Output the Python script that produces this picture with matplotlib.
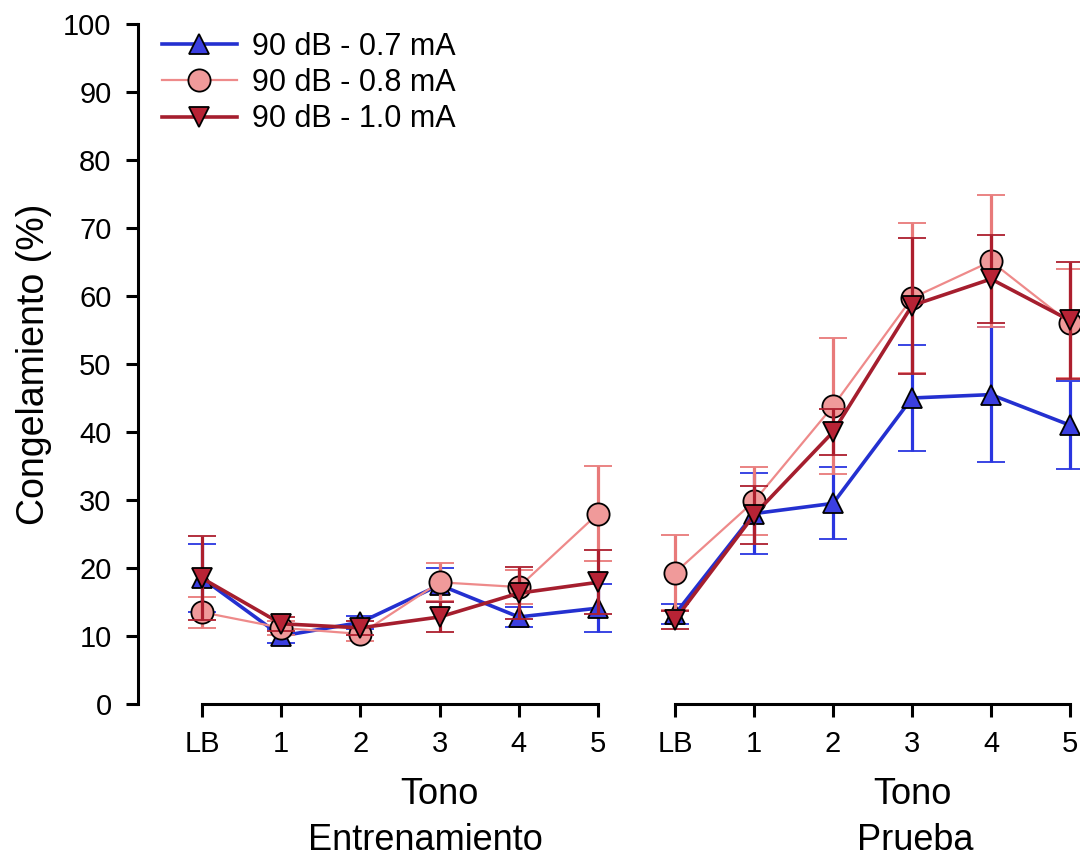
import matplotlib
matplotlib.use("Agg")
import matplotlib.pyplot as plt
import matplotlib.transforms as mtransforms

plt.rcParams['font.family'] = ['Liberation Sans', 'DejaVu Sans']

tick_labels = ["LB", "1", "2", "3", "4", "5"]
x_pos = [0, 1, 2, 3, 4, 5]

# Entrenamiento
train_07 = [18.5, 10.0, 12.0, 17.5, 12.8, 14.1]
train_07_err = [5.0, 1.0, 1.0, 2.5, 1.5, 3.5]
train_08 = [13.5, 11.2, 10.3, 17.9, 17.2, 28.0]
train_08_err = [2.3, 1.0, 1.0, 2.8, 2.5, 7.0]
train_10 = [18.5, 11.8, 11.2, 12.8, 16.3, 17.9]
train_10_err = [6.2, 1.0, 1.0, 2.2, 3.8, 4.7]

# Prueba
test_07 = [13.2, 28.0, 29.5, 45.0, 45.5, 41.0]
test_07_err = [1.5, 6.0, 5.3, 7.8, 9.9, 6.5]
test_08 = [19.3, 29.8, 43.8, 59.7, 65.1, 56.0]
test_08_err = [5.5, 5.0, 10.0, 11.0, 9.7, 8.0]
test_10 = [12.4, 27.8, 40.0, 58.6, 62.5, 56.4]
test_10_err = [1.3, 4.3, 3.4, 10.0, 6.5, 8.6]

labels = ["90 dB - 0.7 mA", "90 dB - 0.8 mA", "90 dB - 1.0 mA"]

styles = [
    dict(marker="^", color="#2430d0", mfc="#3b3fe0", lw=2.6, ms=14, ecolor="#2a36e0", z=3),
    dict(marker="o", color="#ee8a8a", mfc="#f09a9a", lw=1.6, ms=16, ecolor="#e87a7a", z=4),
    dict(marker="v", color="#a51e2e", mfc="#b82335", lw=2.6, ms=14, ecolor="#ad1f2e", z=5),
]

W, H = 1080, 858
fig = plt.figure(figsize=(W / 100, H / 100), dpi=100)

px_per_unit = (598 - 202) / 5.0
bottom = (H - 704) / H
height = 680 / H
ax1 = fig.add_axes([138 / W, bottom, (598 - 138) / W, height])
ax2 = fig.add_axes([675 / W, bottom, (1070 - 675) / W, height])
ax1.set_xlim(-(202 - 138) / px_per_unit, 5)
ax2.set_xlim(0, 5)


def draw(ax, series, errs):
    lines = []
    for ys, es, st in zip(series, errs, styles):
        eb = ax.errorbar(x_pos, ys, yerr=es, color=st["color"], lw=st["lw"],
                         marker=st["marker"], ms=st["ms"], mfc=st["mfc"],
                         mec="black", mew=1.3, ecolor=st["ecolor"],
                         elinewidth=2.3, capsize=10, capthick=2.3,
                         zorder=st["z"], clip_on=False)
        for art in eb.get_children():
            art.set_clip_on(False)
        lines.append(eb[0])
    return lines


handles = draw(ax1, [train_07, train_08, train_10], [train_07_err, train_08_err, train_10_err])
draw(ax2, [test_07, test_08, test_10], [test_07_err, test_08_err, test_10_err])

for ax in (ax1, ax2):
    ax.set_ylim(0, 100)
    ax.set_xticks(x_pos)
    ax.set_xticklabels(tick_labels)
    for s in ("top", "right"):
        ax.spines[s].set_visible(False)
    ax.spines["bottom"].set_bounds(0, 5)
    ax.spines["bottom"].set_linewidth(2.2)
    ax.spines["left"].set_linewidth(2.2)
    ax.tick_params(axis="both", direction="out", length=9, width=2.2,
                   labelsize=21, pad=10)
    ax.patch.set_alpha(0)

ax1.set_yticks(range(0, 101, 10))
ax1.spines["left"].set_bounds(0, 100)
ax1.set_ylabel("Congelamiento (%)", fontsize=27, labelpad=8)
ax2.spines["left"].set_visible(False)
ax2.tick_params(axis="y", left=False, labelleft=False)

for ax, cx, name, nx in ((ax1, 3.0, "Entrenamiento", 2.82), (ax2, 3.0, "Prueba", 3.04)):
    tr = mtransforms.blended_transform_factory(ax.transData, fig.transFigure)
    ax.text(cx, (H - 794) / H, "Tono", transform=tr, ha="center", va="center", fontsize=26)
    ax.text(nx, (H - 841) / H, name, transform=tr, ha="center", va="center", fontsize=26)

leg = fig.legend(handles, labels, loc="upper left",
                 bbox_to_anchor=(162 / W, 1 - 32 / H), frameon=False,
                 fontsize=22, handlelength=2.45, handletextpad=0.5,
                 labelspacing=0.2, borderaxespad=0, borderpad=0)

fig.savefig("out.png", dpi=100)
